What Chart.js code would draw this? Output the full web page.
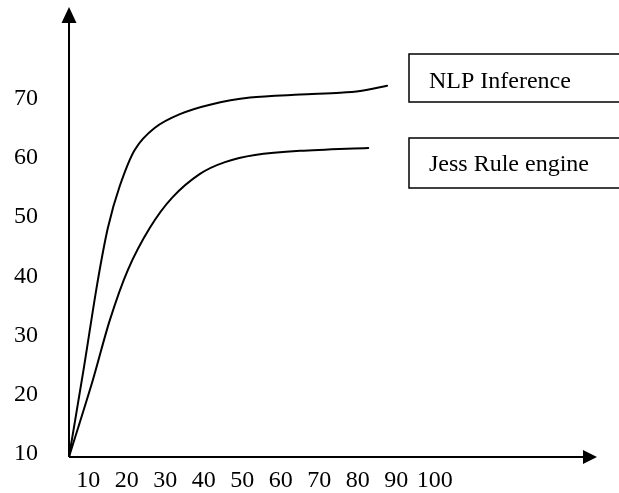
<!DOCTYPE html>
<html>
<head>
<meta charset="utf-8">
<script src="https://cdn.jsdelivr.net/npm/chart.js@4"></script>
<style>
  body { margin: 0; background: #fff; }
</style>
</head>
<body>
<canvas id="chart" width="619" height="493"></canvas>
<script>
// tick labels
const xTicks = [10, 20, 30, 40, 50, 60, 70, 80, 90, 100];
const yTicks = [10, 20, 30, 40, 50, 60, 70];

// NLP Inference curve
const nlpX = [5, 8.9, 12.3, 15.1, 18.2, 22.1, 27.3, 33.8, 41.6, 52.0, 65.0, 75.4, 80.6, 87.6];
const nlpY = [9.5, 24.7, 38.6, 48.2, 55.3, 61.4, 65.1, 67.4, 69.0, 70.2, 70.7, 71.0, 71.3, 72.2];

// Jess Rule engine curve
const jessX = [5, 11.2, 15.6, 20.3, 26.0, 31.8, 39.0, 45.5, 53.3, 65.0, 82.7];
const jessY = [9.5, 22.5, 32.6, 41.1, 48.2, 53.3, 57.3, 59.3, 60.5, 61.2, 61.7];

const pts = (xs, ys) => xs.map((x, i) => ({ x: x, y: ys[i] }));

// axes with arrow heads + boxed labels on the right
const sketch = {
  id: 'sketch',
  afterDraw(chart) {
    const ctx = chart.ctx;
    const a = chart.chartArea;
    ctx.save();
    ctx.strokeStyle = '#000';
    ctx.fillStyle = '#000';
    ctx.lineWidth = 2;
    ctx.beginPath();
    ctx.moveTo(a.left, a.bottom);
    ctx.lineTo(a.right - 10, a.bottom);
    ctx.moveTo(a.left, a.bottom);
    ctx.lineTo(a.left, a.top + 10);
    ctx.stroke();
    // y arrow
    ctx.beginPath();
    ctx.moveTo(a.left, a.top);
    ctx.lineTo(a.left - 7.5, a.top + 16);
    ctx.lineTo(a.left + 7.5, a.top + 16);
    ctx.closePath();
    ctx.fill();
    // x arrow
    ctx.beginPath();
    ctx.moveTo(a.right, a.bottom);
    ctx.lineTo(a.right - 14, a.bottom - 7);
    ctx.lineTo(a.right - 14, a.bottom + 7);
    ctx.closePath();
    ctx.fill();

    // label boxes
    const boxes = [
      { top: 54, h: 48, base: 88 },
      { top: 138, h: 50, base: 171 }
    ];
    ctx.lineWidth = 1.5;
    ctx.font = '24px "Liberation Serif"';
    ctx.textBaseline = 'alphabetic';
    ctx.textAlign = 'left';
    chart.data.datasets.forEach((ds, i) => {
      const b = boxes[i];
      ctx.strokeRect(409, b.top, 240, b.h);
      ctx.fillText(ds.label, 429, b.base);
    });
    ctx.restore();
  }
};

new Chart(document.getElementById('chart'), {
  type: 'scatter',
  data: {
    datasets: [{
      label: 'NLP Inference',
      data: pts(nlpX, nlpY),
      showLine: true,
      borderColor: '#000',
      borderWidth: 2,
      borderCapStyle: 'round',
      pointRadius: 0,
      tension: 0.3
    }, {
      label: 'Jess Rule engine',
      data: pts(jessX, jessY),
      showLine: true,
      borderColor: '#000',
      borderWidth: 2,
      borderCapStyle: 'round',
      pointRadius: 0,
      tension: 0.3
    }]
  },
  options: {
    responsive: false,
    animation: false,
    layout: { padding: { left: 14, top: 7, right: 22, bottom: 0 } },
    plugins: {
      legend: { display: false },
      tooltip: { enabled: false }
    },
    scales: {
      x: {
        type: 'linear',
        min: 5,
        max: 142.1,
        grid: { display: false, drawTicks: false },
        border: { display: false },
        afterBuildTicks: s => { s.ticks = xTicks.map(v => ({ value: v })); },
        afterFit: s => { s.paddingLeft = 0; s.paddingRight = 0; s.height = 36; },
        ticks: {
          color: '#000',
          padding: 12,
          maxRotation: 0,
          autoSkip: false,
          font: { family: 'Liberation Serif', size: 24, lineHeight: 1 }
        }
      },
      y: {
        min: 9.48,
        max: 85.5,
        grid: { display: false, drawTicks: false },
        border: { display: false },
        afterBuildTicks: s => { s.ticks = yTicks.map(v => ({ value: v })); },
        afterFit: s => { s.paddingTop = 0; s.paddingBottom = 0; s.width = 55; },
        ticks: {
          color: '#000',
          padding: 31,
          autoSkip: false,
          font: { family: 'Liberation Serif', size: 24, lineHeight: 1 }
        }
      }
    }
  },
  plugins: [sketch]
});
</script>
</body>
</html>
